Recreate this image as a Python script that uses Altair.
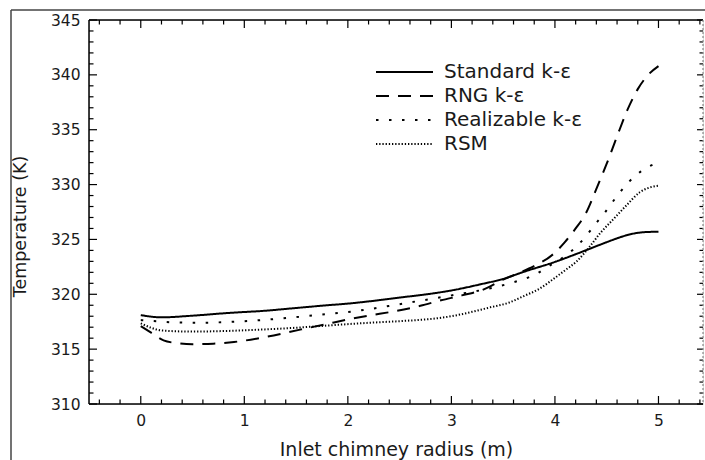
import altair as alt
import pandas as pd

# ---------------- data ----------------
models = ["Standard k-ε", "RNG k-ε", "Realizable k-ε", "RSM"]

x_std = [0.0, 0.2, 0.5, 0.85, 1.2, 1.5, 1.8, 2.0, 2.2, 2.5, 2.8, 3.0, 3.3, 3.5, 3.7,
         4.0, 4.2, 4.35, 4.5, 4.6, 4.7, 4.8, 4.9, 5.0]
y_std = [318.1, 317.9, 318.05, 318.3, 318.5, 318.75, 319.0, 319.15, 319.35, 319.7, 320.05,
         320.35, 320.95, 321.4, 322.05, 322.95, 323.65, 324.2, 324.75, 325.1, 325.4, 325.6,
         325.68, 325.7]

x_rng = [0.0, 0.1, 0.22, 0.35, 0.5, 0.7, 0.9, 1.2, 1.55, 1.8, 2.0, 2.2, 2.45, 2.7, 2.9,
         3.1, 3.3, 3.5, 3.75, 4.0, 4.1, 4.2, 4.3, 4.4, 4.5, 4.6, 4.7, 4.8, 4.9, 5.0]
y_rng = [317.1, 316.5, 315.8, 315.55, 315.45, 315.5, 315.65, 316.1, 316.8, 317.3, 317.7,
         318.05, 318.45, 318.95, 319.45, 319.9, 320.4, 321.35, 322.35, 323.8, 324.8, 326.0,
         327.4, 329.6, 331.9, 334.4, 336.8, 338.7, 340.0, 340.8]

x_rea = [0.0, 0.15, 0.3, 0.55, 0.9, 1.3, 1.7, 2.1, 2.5, 3.0, 3.4, 3.67, 3.81, 3.93, 4.07,
         4.19, 4.3, 4.39, 4.47, 4.54, 4.62, 4.71, 4.83, 4.92, 5.0]
y_rea = [317.65, 317.55, 317.45, 317.4, 317.5, 317.75, 318.1, 318.5, 319.1, 319.9, 320.6,
         321.3, 321.8, 322.5, 323.3, 324.2, 325.3, 326.4, 327.3, 328.2, 329.2, 330.2, 331.2,
         331.7, 332.0]

x_rsm = [0.0, 0.1, 0.2, 0.5, 0.8, 1.2, 1.5, 1.8, 2.2, 2.5, 2.8, 3.0, 3.2, 3.37, 3.56, 3.69,
         3.85, 4.0, 4.1, 4.21, 4.34, 4.44, 4.56, 4.69, 4.82, 4.92, 5.0]
y_rsm = [317.35, 316.95, 316.7, 316.6, 316.65, 316.8, 316.95, 317.15, 317.4, 317.55, 317.75,
         318.0, 318.4, 318.8, 319.25, 319.8, 320.5, 321.5, 322.2, 323.0, 324.4, 325.6, 326.8,
         328.1, 329.3, 329.75, 329.9]

x_major = [0, 1, 2, 3, 4, 5]
x_minor = [-0.4, -0.2, 0.2, 0.4, 0.6, 0.8, 1.2, 1.4, 1.6, 1.8, 2.2, 2.4, 2.6, 2.8,
           3.2, 3.4, 3.6, 3.8, 4.2, 4.4, 4.6, 4.8, 5.2, 5.4]
y_major = [310, 315, 320, 325, 330, 335, 340, 345]
y_minor = [v for v in range(311, 345) if v % 5 != 0]

rows = []
for name, xs, ys in zip(models, [x_std, x_rng, x_rea, x_rsm], [y_std, y_rng, y_rea, y_rsm]):
    for a, b in zip(xs, ys):
        rows.append({"x": a, "y": b, "model": name})
df = pd.DataFrame(rows)

# ---------------- styling ----------------
W, H = 614, 384
FONT = "DejaVu Sans"
TXT = "#1a1a1a"

xscale = alt.Scale(domain=[-0.5, 5.43], nice=False, zero=False)
yscale = alt.Scale(domain=[310, 345], nice=False, zero=False)

xaxis = alt.Axis(values=x_major, format="d", ticks=False, domain=False, grid=False,
                 labelFont=FONT, labelFontSize=15.5, labelColor=TXT, labelPadding=9,
                 title="Inlet chimney radius (m)", titleFont=FONT, titleFontSize=19,
                 titleFontWeight="normal", titleColor=TXT, titleY=51,
                 titleBaseline="alphabetic")
yaxis = alt.Axis(values=y_major, format="d", ticks=False, domain=False, grid=False,
                 labelFont=FONT, labelFontSize=15.5, labelColor=TXT, labelPadding=9,
                 title="Temperature (K)", titleFont=FONT, titleFontSize=17.5,
                 titleFontWeight="normal", titleColor=TXT, titleX=-69, titleY=206,
                 titleAngle=270, titleBaseline="middle", titleAlign="center")

dashes = [[1, 0], [13, 9], [2.5, 10.5], [1.3, 1.9]]
widths = [2.0, 2.0, 3.0, 1.4]

legend = alt.Legend(title=None, orient="none", legendX=286, legendY=40,
                    symbolType="stroke", symbolSize=3249, symbolStrokeColor="black",
                    clipHeight=24, rowPadding=0, padding=0, labelOffset=10,
                    labelFont=FONT, labelFontSize=20, labelColor=TXT, labelLimit=400)

lines = alt.Chart(df).mark_line(color="black", interpolate="monotone").encode(
    x=alt.X("x:Q", scale=xscale, axis=xaxis),
    y=alt.Y("y:Q", scale=yscale, axis=yaxis),
    strokeDash=alt.StrokeDash("model:N", scale=alt.Scale(domain=models, range=dashes),
                              legend=legend),
    strokeWidth=alt.StrokeWidth("model:N", scale=alt.Scale(domain=models, range=widths),
                                legend=legend),
)


def xticks(vals, length, side):
    d = pd.DataFrame({"x": vals})
    if side == "bottom":
        yy, yy2 = alt.value(H), alt.value(H - length)
    else:
        yy, yy2 = alt.value(0), alt.value(length)
    return alt.Chart(d).mark_rule(color="black", strokeWidth=1.2).encode(
        x=alt.X("x:Q", scale=xscale, axis=xaxis), y=yy, y2=yy2)


def yticks(vals, length, side):
    d = pd.DataFrame({"y": vals})
    if side == "left":
        xx, xx2 = alt.value(0), alt.value(length)
    else:
        xx, xx2 = alt.value(W), alt.value(W - length)
    return alt.Chart(d).mark_rule(color="black", strokeWidth=1.2).encode(
        y=alt.Y("y:Q", scale=yscale, axis=yaxis), x=xx, x2=xx2)


one = alt.Data(values=[{}])


def hrule(yv, x0, x1, color="black", sw=1.5, dash=None):
    kw = {"color": color, "strokeWidth": sw}
    if dash:
        kw["strokeDash"] = dash
    return alt.Chart(one).mark_rule(**kw).encode(
        x=alt.value(x0), x2=alt.value(x1), y=alt.value(yv))


def vrule(xv, y0, y1, color="black", sw=1.5, dash=None):
    kw = {"color": color, "strokeWidth": sw}
    if dash:
        kw["strokeDash"] = dash
    return alt.Chart(one).mark_rule(**kw).encode(
        y=alt.value(y0), y2=alt.value(y1), x=alt.value(xv))


frame = [
    hrule(0, 0, W), hrule(H, 0, W), vrule(0, 0, H),
    vrule(W, 0, H, color="#8a8a8a", sw=1.2, dash=[2, 2]),
    # outer figure border
    hrule(-10, -78, W + 10, color="#444444", sw=1.5),
    vrule(-78, -10, H + 70, color="#444444", sw=1.5),
]

ticks = [
    xticks(x_major, 8, "bottom"), xticks(x_minor, 4.5, "bottom"),
    xticks(x_major, 8, "top"), xticks(x_minor, 4.5, "top"),
    yticks(y_major, 8, "left"), yticks(y_minor, 4.5, "left"),
    yticks(y_major, 6, "right"), yticks(y_minor, 3.5, "right"),
]

chart = alt.layer(lines, *ticks, *frame).properties(
    width=W, height=H,
    padding={"left": 89, "top": 20, "right": 2, "bottom": 56},
    autosize=alt.AutoSizeParams(type="none"),
).configure_view(stroke=None).configure(background="white")

chart.save("out.html", embed_options={"renderer": "svg", "actions": False})
